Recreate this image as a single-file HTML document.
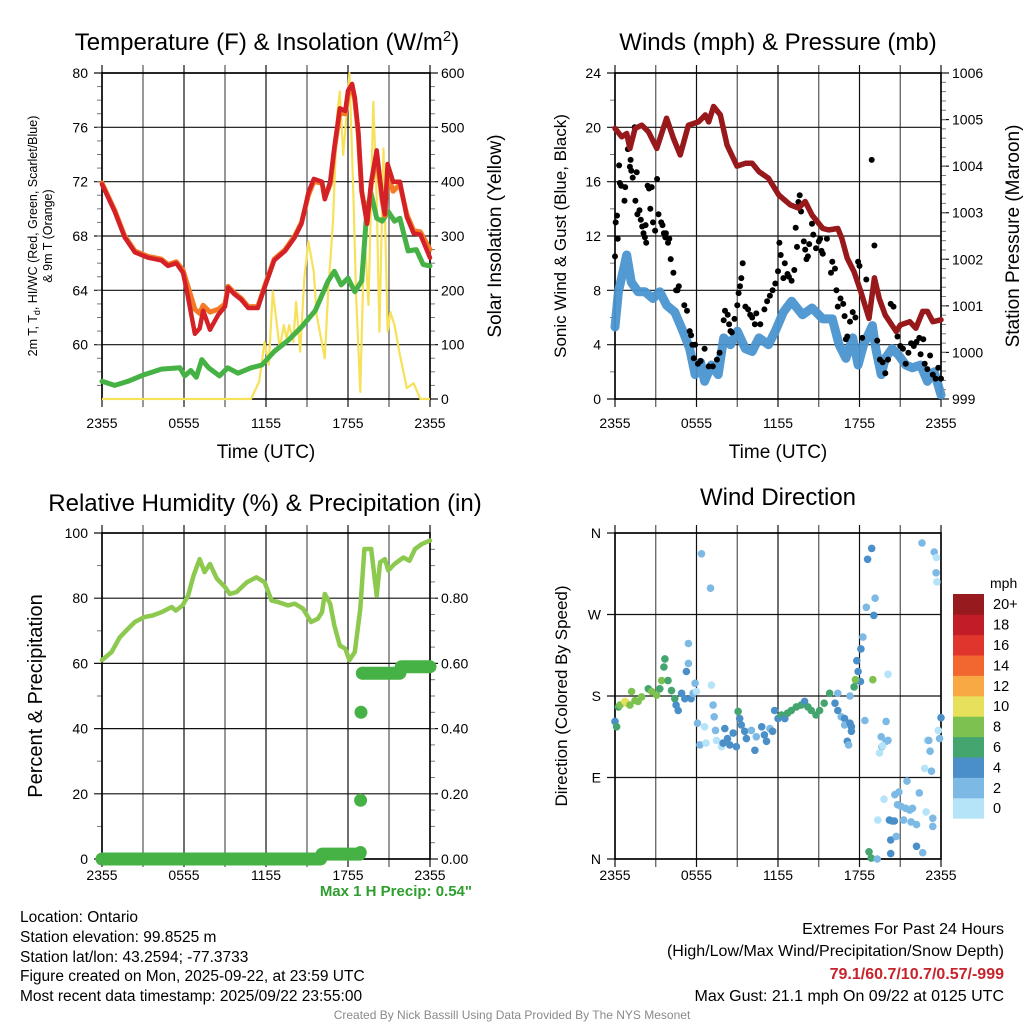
<!DOCTYPE html>
<html><head><meta charset="utf-8">
<style>
html,body{margin:0;padding:0;background:#fff;}
svg{display:block;font-family:"Liberation Sans",Arial,sans-serif;}
</style></head>
<body>
<svg id="fig" width="1024" height="1024" viewBox="0 0 1024 1024">
<rect x="0" y="0" width="1024" height="1024" fill="#fff"/>
<text x="267" y="50" font-size="24" text-anchor="middle">Temperature (F) &amp; Insolation (W/m<tspan dy="-9" font-size="15">2</tspan><tspan dy="9">)</tspan></text>
<text x="778" y="50" font-size="24" text-anchor="middle">Winds (mph) &amp; Pressure (mb)</text>
<text x="265" y="511" font-size="24" text-anchor="middle">Relative Humidity (%) &amp; Precipitation (in)</text>
<text x="778" y="505" font-size="24" text-anchor="middle">Wind Direction</text>

<text transform="translate(37,236) rotate(-90)" font-size="12.5" text-anchor="middle">2m T, T<tspan font-size="9" dy="3">d</tspan><tspan dy="-3">, HI/WC (Red, Green, Scarlet/Blue)</tspan></text>
<text transform="translate(52,236) rotate(-90)" font-size="12.5" text-anchor="middle">&amp; 9m T (Orange)</text>
<text transform="translate(501,236) rotate(-90)" font-size="19" text-anchor="middle">Solar Insolation (Yellow)</text>
<text transform="translate(566,236) rotate(-90)" font-size="17" text-anchor="middle">Sonic Wind &amp; Gust (Blue, Black)</text>
<text transform="translate(1019,236) rotate(-90)" font-size="19" text-anchor="middle">Station Pressure (Maroon)</text>
<text transform="translate(42,696) rotate(-90)" font-size="20" text-anchor="middle">Percent &amp; Precipitation</text>
<text transform="translate(567,696) rotate(-90)" font-size="17" text-anchor="middle">Direction (Colored By Speed)</text>
<text x="266" y="458" font-size="19" text-anchor="middle">Time (UTC)</text>
<text x="778" y="458" font-size="19" text-anchor="middle">Time (UTC)</text>

<text x="472" y="896" font-size="15" font-weight="bold" fill="#2e9e2e" text-anchor="end">Max 1 H Precip: 0.54"</text>
<g font-size="15.5">
<text x="20" y="922">Location: Ontario</text>
<text x="20" y="942">Station elevation: 99.8525 m</text>
<text x="20" y="962">Station lat/lon: 43.2594; -77.3733</text>
<text x="20" y="981">Figure created on Mon, 2025-09-22, at 23:59 UTC</text>
<text x="20" y="1001">Most recent data timestamp: 2025/09/22 23:55:00</text>
</g>
<g font-size="16" text-anchor="end">
<text x="1004" y="934">Extremes For Past 24 Hours</text>
<text x="1004" y="956">(High/Low/Max Wind/Precipitation/Snow Depth)</text>
<text x="1004" y="979" font-weight="bold" fill="#c8232c">79.1/60.7/10.7/0.57/-999</text>
<text x="1004" y="1001">Max Gust: 21.1 mph On 09/22 at 0125 UTC</text>
</g>
<text x="512" y="1019" font-size="12" fill="#8a8a8a" text-anchor="middle">Created By Nick Bassill Using Data Provided By The NYS Mesonet</text>
<g id="layer"></g>
</svg>
<script>
// ---------- data ----------
const timeTicks = ["2355","0555","1155","1755","2355"];
const tempTicks = [60,64,68,72,76,80];
const solarTicks = [0,100,200,300,400,500,600];
const windTicks = [0,4,8,12,16,20,24];
const presTicks = [999,1000,1001,1002,1003,1004,1005,1006];
const rhTicks = [0,20,40,60,80,100];
const precipTicks = ["0.00","0.20","0.40","0.60","0.80"];
const dirTicks = ["N","E","S","W","N"];

const tempT = [0,0.93,1.66,2.4,3.37,4.35,4.83,5.44,5.93,6.2,6.8,7.15,7.4,7.9,8.5,9.0,9.23,9.7,10.2,10.7,11.4,11.9,12.6,13.4,14.1,14.6,15.1,15.5,16.1,16.3,16.7,17.0,17.4,17.8,18.0,18.3,18.5,18.75,19.0,19.4,19.7,20.1,20.5,20.7,20.9,21.3,21.8,22.3,22.8,23.3,24];
const tempRed = [71.8,69.8,67.9,66.8,66.4,66.2,65.8,66.0,65.3,64.0,60.8,61.2,62.5,61.1,62.2,62.8,64.2,63.7,63.3,62.7,62.7,64.2,66.2,66.9,67.9,68.9,71.2,72.2,72.0,70.7,72.0,74.5,77.4,77.2,78.7,79.2,78.2,75.7,71.3,68.9,72.0,74.3,70.8,69.6,73.3,72.0,72.0,69.4,68.2,68.1,66.4];
const tempOrange = [71.9,69.9,68.0,66.9,66.5,66.3,65.9,66.1,65.5,64.6,62.6,62.3,62.9,62.4,62.6,63.0,64.3,63.8,63.4,62.8,62.8,64.3,66.3,67.0,68.0,69.0,71.0,72.0,71.9,70.8,71.8,74.3,77.1,77.0,78.4,79.0,78.0,75.5,71.3,69.0,71.8,74.0,70.6,69.5,72.6,71.3,71.8,69.6,68.4,68.3,67.0];
const dewT = [0,0.93,1.9,3.1,4.35,5.7,6.05,6.5,6.9,7.3,7.8,8.6,9.2,9.95,10.9,11.7,12.6,13.6,14.6,15.6,16.55,17.0,17.5,18.0,18.5,19.0,19.4,19.7,20.1,20.5,20.95,21.4,21.8,22.4,23.0,23.5,24];
const dewVals = [57.3,57.0,57.3,57.8,58.2,58.3,57.7,58.1,57.6,58.9,58.3,57.7,58.3,57.9,58.3,58.5,59.5,60.3,61.3,62.5,64.7,65.4,64.4,64.9,63.9,64.7,70.1,71.1,69.3,69.1,69.8,69.1,69.3,66.9,67.0,65.9,65.8];
const solarT = [0,10.9,11.5,11.9,12.2,12.5,12.8,13.0,13.3,13.5,13.7,14.0,14.2,14.5,14.8,15.1,15.5,15.7,16.3,16.55,16.9,17.2,17.4,17.65,17.9,18.1,18.4,18.6,18.9,19.2,19.5,19.85,20.1,20.3,20.6,20.9,21.1,21.4,21.8,22.3,22.8,23.3,24];
const solarVals = [0,0,32,105,63,198,136,93,136,112,136,105,179,87,222,290,234,155,75,198,326,523,566,449,523,600,369,185,13,308,173,547,369,124,461,124,160,136,81,20,29,0,0];

const presT = [0,0.49,0.86,1.1,1.48,1.97,2.46,3.08,3.8,4.3,4.8,5.4,6.15,6.65,6.9,7.26,7.75,8.25,8.98,9.6,10.1,10.6,11.3,12.06,12.9,13.5,14.0,14.5,15.3,15.75,16.4,16.7,17.1,17.6,18.1,18.7,19.1,19.45,19.9,20.7,21.0,21.7,22.15,22.65,23.0,23.4,24];
const presVals = [1004.81,1004.63,1004.7,1004.38,1004.81,1004.88,1004.74,1004.38,1005.03,1004.6,1004.24,1004.88,1004.95,1005.1,1004.95,1005.28,1005.1,1004.45,1004.0,1004.06,1004.06,1003.88,1003.74,1003.38,1003.17,1003.1,1003.24,1002.95,1002.66,1002.63,1002.66,1002.45,1002.02,1001.73,1001.3,1000.73,1001.6,1001.16,1000.8,1000.45,1000.59,1000.66,1000.52,1000.88,1000.88,1000.66,1000.7];
const windT = [0,0.25,0.6,0.86,1.2,1.7,2.2,2.8,3.3,3.8,4.4,5.0,5.5,5.9,6.3,6.6,7.1,7.6,8.0,8.5,9.0,9.6,10.1,10.6,11.3,11.8,12.4,13.0,13.8,14.5,15.3,16.0,16.5,17.0,17.5,17.9,18.3,18.95,19.2,19.6,19.9,20.4,20.9,21.4,21.9,22.5,23.0,23.5,24];
const windVals = [5.3,7.9,9.4,10.6,8.6,7.9,7.9,7.4,7.9,6.9,6.4,5.0,3.7,1.8,2.7,1.3,2.5,1.8,4.5,4.0,5.0,3.7,3.5,4.5,4.0,5.0,6.4,7.2,6.2,6.7,5.9,5.9,4.0,3.0,4.5,2.5,4.0,5.4,3.7,1.8,3.0,3.7,3.2,2.5,2.3,2.5,1.3,2.0,0.3];
const gustT = [0.0,0.05,0.15,0.2,0.3,0.35,0.45,0.7,0.75,0.95,1.1,1.15,1.2,1.3,1.45,1.6,1.5,1.65,1.8,1.9,2.0,2.1,2.2,2.3,2.25,2.4,2.5,2.6,2.7,2.8,2.95,3.1,3.2,3.4,3.5,3.6,3.7,3.75,3.9,4.0,4.1,4.3,4.5,4.6,4.7,5.1,5.3,5.5,5.6,5.7,5.8,5.9,6.1,6.3,6.6,6.9,7.2,7.5,7.7,8.0,8.1,8.3,8.4,8.5,8.6,8.8,9.0,9.1,9.2,9.3,9.4,9.6,9.8,9.95,10.1,10.3,10.4,10.7,11.0,11.2,11.4,11.6,11.8,12.0,12.1,12.2,12.4,12.5,12.7,12.8,13.0,13.2,13.3,13.4,13.5,13.6,13.7,13.9,14.0,14.1,14.2,14.3,14.5,14.6,14.8,15.0,15.1,15.2,15.3,15.6,15.9,16.0,16.2,16.3,16.4,16.6,16.8,16.9,17.0,17.1,17.3,17.5,17.7,17.9,18.0,18.2,18.5,18.9,19.1,19.3,19.5,19.7,19.9,20.1,20.3,20.5,20.8,21.0,21.2,21.4,21.6,21.8,22.0,22.2,22.4,22.5,22.7,22.8,23.0,23.2,23.4,23.6,23.8,24.0];
const gustVals = [10.5,13,13.5,11.8,17.2,15.9,15.7,14.6,15.6,18.4,17.1,17.6,16.8,16.3,20.0,16.7,14.6,13.6,13.9,13.2,12.7,12.2,11.9,11.5,12.8,15.7,15.5,14.0,15.6,13.0,12.4,16.2,13.6,13.0,12.8,12.2,11.9,12.2,11.5,11.8,10.3,9.3,8.0,8.0,8.3,6.9,6.5,5.0,4.7,4.0,3.0,4.0,2.6,2.8,3.7,2.4,2.4,2.9,3.4,5.8,6.5,6.2,5.5,5.0,4.9,5.9,6.9,7.8,8.3,8.9,10.0,6.8,6.6,6.2,6.0,5.5,6.3,5.5,6.6,7.2,7.6,8.0,8.5,9.4,11.5,10.6,8.9,10.0,9.2,9.0,8.7,9.5,12.6,11.2,14.5,15.0,13.8,11.6,11.0,10.3,10.5,11.4,12.9,12.1,11.1,11.6,11.8,10.9,10.7,11.8,9.3,10.1,9.6,8.0,6.8,7.4,7.0,6.1,4.4,4.6,5.7,6.4,6.0,10.1,9.8,4.5,8.8,17.6,11.3,4.3,2.9,2.7,1.9,2.9,7.0,6.8,4.6,3.9,3.7,2.6,3.4,4.1,3.9,4.2,4.5,3.3,4.4,2.6,2.2,3.2,1.8,1.5,2.3,1.5];

const rhT = [0,0.7,1.3,1.9,2.4,3.1,3.7,4.35,5.1,5.4,5.9,6.3,6.7,7.15,7.5,7.9,8.4,9.0,9.35,9.85,10.6,11.3,11.9,12.4,12.9,13.6,14.1,14.7,15.3,15.8,16.1,16.3,16.7,17.0,17.4,17.8,18.1,18.5,18.9,19.2,19.7,20.1,20.35,20.7,20.95,21.4,22.05,22.5,22.9,23.4,24];
const rhVals = [61,63.5,68,70.6,72.7,74.2,74.7,75.7,77.3,76.2,77.8,80.8,87,92,88,90.5,86,83.4,81.3,81.9,84.9,86.4,84.9,79.3,78.8,77.8,78.3,76.8,72.7,73.7,75.7,81.3,78.3,71.7,65.5,64.5,61,63.5,76.8,95.1,95.1,80.8,91,92,88.5,90.5,92.5,91.5,95.1,96.6,97.7];
const precipT = [0,1,2,3,4,5,6,7,8,9,10,11,12,13,14,15,16,16.1,17,18,18.85,18.9,18.92,18.95,19.05,20,21,21.8,21.9,22.5,23,24];
const precipVals = [0,0,0,0,0,0,0,0,0,0,0,0,0,0,0,0,0,0.015,0.015,0.015,0.015,0.02,0.18,0.45,0.57,0.57,0.57,0.57,0.59,0.59,0.59,0.59];

const dirT = [0,0.12,0.25,0.37,0.73,0.86,1.22,1.1,1.47,1.7,1.96,2.45,2.7,3.06,3.3,3.43,3.67,3.6,3.9,4.16,4.4,4.5,4.65,4.9,5.14,5.26,5.4,5.4,5.6,5.75,5.9,6.0,6.07,6.25,6.6,6.7,6.37,7.03,7.1,7.22,7.3,7.4,7.47,7.84,7.96,8.08,8.28,8.45,8.7,8.94,9.06,9.18,9.3,9.55,9.67,10.04,10.3,10.4,10.8,11.0,11.15,11.4,11.6,11.75,12.0,12.25,12.5,12.7,12.98,13.35,13.7,13.96,14.2,14.45,14.8,15.06,15.4,15.8,16.2,16.4,16.4,16.65,16.9,16.9,17.3,17.4,17.4,17.1,17.2,17.3,17.6,17.75,17.9,17.8,18.1,18.25,18.07,17.7,18.4,18.5,18.6,18.9,19.05,19.15,18.98,18.7,18.86,19.3,19.35,19.8,19.96,20.1,19.6,19.65,19.47,19.96,20.2,20.4,20.57,20.6,20.8,20.9,21.06,21.25,21.4,21.5,21.7,21.9,21.8,22.2,22.2,22.4,22.65,22.9,23.4,23.4,20.3,20.3,20.7,22.6,23.5,23.66,23.64,23.7,22.8,23.3,23.0,23.1,23.2,23.8,23.9,24,20.1,19.7];
const dirVals = [152,146,168,170,174,172,185,170,175,174,179,188,185,181,188,197,221,212,197,186,177,170,164,183,177,207,216,238,177,183,194,185,150,126,146,128,337,299,192,170,157,142,131,124,128,144,133,126,139,124,163,155,148,141,133,142,120,135,146,137,130,144,141,164,155,159,155,161,164,168,170,174,168,164,159,164,172,183,172,183,164,157,155,148,150,146,141,130,126,180,190,197,207,219,232,245,196,198,153,278,331,343,269,288,198,8,1,0,43,66,152,204,135,124,117,130,43,42,42,71,60,74,58,43,56,86,54,56,41,38,14,73,7,52,45,36,21,6,25,349,339,333,316,306,100,97,131,131,119,142,133,156,131,125];
const dirSpeed = [5,7,7,9,11,11,9,9,9,9,9,7,9,9,7,9,7,7,7,7,7,5,5,5,5,5,3,3,5,3,3,1,3,3,1,1,3,3,1,3,3,3,1,1,5,5,5,5,5,5,7,5,5,5,5,3,5,3,5,5,5,3,5,5,5,7,5,7,7,7,7,5,7,7,7,7,7,7,5,3,5,3,5,3,5,5,5,5,3,3,7,7,5,5,5,3,5,9,3,3,5,5,5,3,9,7,7,3,1,1,3,1,3,3,1,3,5,5,5,3,3,3,3,3,3,3,3,3,3,3,5,3,3,1,3,3,5,5,3,3,3,1,3,1,1,3,1,3,3,1,3,5,3,1];

const cbLabels = ["0","2","4","6","8","10","12","14","16","18","20+"];
const cbColors = ["#b5e3f7","#7cb9e4","#4a8fc7","#45a56f","#7dc250","#e6e05a","#f8a944","#f26630","#e0352c","#c11c27","#961a1e"];

// ---------- helpers ----------
const NS = "http://www.w3.org/2000/svg";
const layer = document.getElementById("layer");
function mk(tag, attrs, parent) {
  const e = document.createElementNS(NS, tag);
  for (const k in attrs) e.setAttribute(k, attrs[k]);
  (parent || layer).appendChild(e);
  return e;
}
function lin(d0, d1, r0, r1) { return v => r0 + (v - d0) / (d1 - d0) * (r1 - r0); }
function pathFrom(xs, ys, fx, fy) {
  let d = "";
  for (let i = 0; i < xs.length; i++) d += (i ? "L" : "M") + fx(xs[i]).toFixed(1) + "," + fy(ys[i]).toFixed(1);
  return d;
}
function speedColor(s) { let i = Math.min(10, Math.max(0, Math.floor(s / 2))); return cbColors[i]; }

function panel(name, L, R, T, B, leftTicks, leftScale, rightTicks, rightScale, leftLabels, rightLabels, leftMinor, rightMinor, labOff) {
  const g = mk("g", {});
  
  
  const fx = lin(0, 24, L, R);
  for (let h = 0; h <= 24; h += 3) {
    const x = fx(h);
    const ln = mk("line", {x1: x, x2: x, y1: T - 8, y2: B + 8, stroke: (h % 6 === 0 ? "#111" : "#555"), "stroke-width": 1.2}, g);
    
    
  }
  leftTicks.forEach((v, i) => {
    const y = leftScale(v);
    const ln = mk("line", {x1: L - 8, x2: R, y1: y, y2: y, stroke: "#111", "stroke-width": 1.2}, g);
    
    
    const t = mk("text", {x: L - 14, y: y + 5, "font-size": 14, "text-anchor": "end"}, g);
    t.textContent = leftLabels ? leftLabels[i] : v;
    
    
  });
  leftMinor.forEach(v => { const y = leftScale(v); mk("line", {x1: L - 5, x2: L, y1: y, y2: y, stroke: "#777", "stroke-width": 1}, g); });
  if (rightTicks) {
    rightTicks.forEach((v, i) => {
      const y = rightScale(v);
      mk("line", {x1: R, x2: R + 8, y1: y, y2: y, stroke: "#111", "stroke-width": 1.2}, g);
      const t = mk("text", {x: R + 11, y: y + 5, "font-size": 14}, g);
      t.textContent = rightLabels ? rightLabels[i] : v;
      
      
    });
    rightMinor.forEach(v => { const y = rightScale(v); mk("line", {x1: R, x2: R + 5, y1: y, y2: y, stroke: "#777", "stroke-width": 1}, g); });
  }
  mk("rect", {x: L, y: T, width: R - L, height: B - T, fill: "none", stroke: "#000", "stroke-width": 1.6}, g);
  timeTicks.forEach((lab, i) => {
    const t = mk("text", {x: fx(i * 6), y: B + labOff, "font-size": 14, "text-anchor": "middle"}, g);
    t.textContent = lab;
    
    
  });
  return fx;
}
function range(a, b, s) { const r = []; for (let v = a; v <= b + 1e-9; v += s) r.push(+v.toFixed(4)); return r; }

// ---------- panel 1: temperature ----------
const L1 = 102, R1 = 430, T1 = 73, B1 = 399;
const yT = lin(56, 80, B1, T1), yS = lin(0, 600, B1, T1);
const fx1 = panel("temperature", L1, R1, T1, B1, tempTicks, yT, solarTicks, yS, null, null, range(57, 79, 1), range(25, 575, 25), 29);
let p;
p = mk("path", {d: pathFrom(solarT, solarVals, fx1, yS), fill: "none", stroke: "#f7e15a", "stroke-width": 2.2, "stroke-linejoin": "round"});


p = mk("path", {d: pathFrom(dewT, dewVals, fx1, yT), fill: "none", stroke: "#46b245", "stroke-width": 5, "stroke-linejoin": "round", "stroke-linecap": "round"});


p = mk("path", {d: pathFrom(tempT, tempOrange, fx1, yT), fill: "none", stroke: "#f47b26", "stroke-width": 5, "stroke-linejoin": "round", "stroke-linecap": "round"});


p = mk("path", {d: pathFrom(tempT, tempRed, fx1, yT), fill: "none", stroke: "#d42027", "stroke-width": 4.5, "stroke-linejoin": "round", "stroke-linecap": "round"});



// ---------- panel 2: winds ----------
const L2 = 615, R2 = 941, T2 = 73, B2 = 399;
const yW = lin(0, 24, B2, T2), yP = lin(999, 1006, B2, T2);
const fx2 = panel("winds", L2, R2, T2, B2, windTicks, yW, presTicks, yP, null, null, range(2, 22, 4), range(999.2, 1005.8, 0.2), 29);
p = mk("path", {d: pathFrom(windT, windVals, fx2, yW), fill: "none", stroke: "#4a93d0", "stroke-width": 9, "stroke-linejoin": "round", "stroke-linecap": "round", opacity: 0.95});


gustT.forEach((t, i) => {
  const c = mk("circle", {cx: fx2(t).toFixed(1), cy: yW(gustVals[i]).toFixed(1), r: 3, fill: "#000"});
  
  
});
p = mk("path", {d: pathFrom(presT, presVals, fx2, yP), fill: "none", stroke: "#98191c", "stroke-width": 5.5, "stroke-linejoin": "round", "stroke-linecap": "round"});



// ---------- panel 3: humidity ----------
const L3 = 102, R3 = 430, T3 = 533, B3 = 859;
const yR = lin(0, 100, B3, T3), yQ = lin(0, 1, B3, T3);
const fx3 = panel("humidity", L3, R3, T3, B3, rhTicks, yR, [0, 0.2, 0.4, 0.6, 0.8], yQ, null, precipTicks, range(10, 90, 20), range(0.05, 0.95, 0.05), 21);
p = mk("path", {d: pathFrom(rhT, rhVals, fx3, yR), fill: "none", stroke: "#8dc94f", "stroke-width": 4.5, "stroke-linejoin": "round", "stroke-linecap": "round"});


let seg = "";
for (let i = 0; i < precipT.length; i++) {
  const x = fx3(precipT[i]).toFixed(1), y = yQ(precipVals[i]).toFixed(1);
  const jump = i > 0 && Math.abs(precipVals[i] - precipVals[i - 1]) > 0.05;
  seg += (i === 0 || jump ? "M" : "L") + x + "," + y;
  if (jump) {
    const c = mk("circle", {cx: x, cy: y, r: 6.5, fill: "#46b245"});
    
    
  }
}
p = mk("path", {d: seg, fill: "none", stroke: "#46b245", "stroke-width": 13, "stroke-linejoin": "round", "stroke-linecap": "round"});



// ---------- panel 4: direction ----------
const L4 = 615, R4 = 941, T4 = 533, B4 = 859;
const yD = lin(0, 360, B4, T4);
const fx4 = panel("direction", L4, R4, T4, B4, [0, 90, 180, 270, 360], yD, null, null, dirTicks, null, [], [], 21);
dirT.forEach((t, i) => {
  const c = mk("circle", {cx: fx4(t).toFixed(1), cy: yD(dirVals[i]).toFixed(1), r: 3.8, fill: speedColor(dirSpeed[i])});
  
  
});

// ---------- colorbar ----------
const cb = mk("g", {});


const cbTop = 594, cbH = 20.4;
const mph = mk("text", {x: 990, y: 588, "font-size": 14}, cb);
mph.textContent = "mph";
cbLabels.forEach((lab, i) => {
  const y = cbTop + (10 - i) * cbH;
  mk("rect", {x: 953, y: y, width: 31, height: cbH + 0.3, fill: cbColors[i]}, cb);
  const t = mk("text", {x: 993, y: y + cbH / 2 + 5, "font-size": 14.5}, cb);
  t.textContent = lab;
  
  
});
</script>
</body></html>
